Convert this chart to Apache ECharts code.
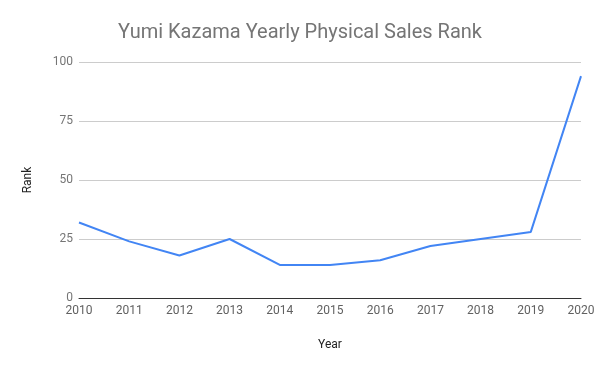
<!DOCTYPE html>
<html><head><meta charset="utf-8">
<script src="https://cdn.jsdelivr.net/npm/echarts@6/dist/echarts.min.js"></script>
<style>html,body{margin:0;padding:0;background:#fff}#c{width:600px;height:371px}</style>
</head><body><div id="c"></div>
<script>
const years = ['2010','2011','2012','2013','2014','2015','2016','2017','2018','2019','2020'];
const rank = [32, 24, 18, 25, 14, 14, 16, 22, 25, 28, 94];
const yTicks = [0, 25, 50, 75, 100];

const chart = echarts.init(document.getElementById('c'), null, {renderer: 'canvas'});
chart.setOption({
  animation: false,
  backgroundColor: '#fff',
  title: {
    text: 'Yumi Kazama Yearly Physical Sales Rank',
    left: 'center', top: 18,
    textStyle: {fontFamily: 'Roboto', fontSize: 20, fontWeight: 'normal', color: '#757575'}
  },
  grid: {left: 79, right: 19, top: 62, bottom: 73},
  xAxis: {
    type: 'category', data: years, boundaryGap: false,
    name: 'Year', nameLocation: 'middle', nameGap: 41,
    nameTextStyle: {fontFamily: 'Roboto', fontSize: 12, color: '#222'},
    axisLine: {lineStyle: {color: '#333', width: 1}},
    axisTick: {show: false},
    axisLabel: {fontFamily: 'Roboto', fontSize: 12, color: '#616161', margin: 7, interval: 0}
  },
  yAxis: {
    type: 'value', min: yTicks[0], max: yTicks[yTicks.length-1], interval: 25,
    name: 'Rank', nameLocation: 'middle', nameGap: 45, nameRotate: 90,
    nameTextStyle: {fontFamily: 'Roboto', fontSize: 12, color: '#222'},
    axisLine: {show: false}, axisTick: {show: false},
    axisLabel: {fontFamily: 'Roboto', fontSize: 12, color: '#757575', margin: 6},
    splitLine: {lineStyle: {color: '#cccccc', width: 1}}
  },
  series: [{
    type: 'line', data: rank, symbol: 'none',
    lineStyle: {color: '#4285f4', width: 2}
  }]
});
</script></body></html>
